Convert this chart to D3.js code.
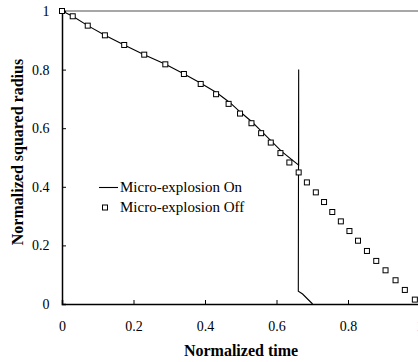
<!DOCTYPE html>
<html>
<head>
<meta charset="utf-8">
<script src="https://cdn.jsdelivr.net/npm/d3@7"></script>
<style>
  html, body { margin: 0; padding: 0; background: #fff; }
  svg { display: block; }
</style>
</head>
<body>
<svg id="chart" width="418" height="362"></svg>
<script>
// Normalized time / squared radius, micro-explosion enabled
const onTime   = [0, 0.030, 0.072, 0.120, 0.174, 0.230, 0.288, 0.339, 0.386, 0.433, 0.470, 0.498, 0.531, 0.559, 0.587, 0.615, 0.662, 0.662, 0.661, 0.673, 0.701];
const onRadius = [1, 0.982, 0.950, 0.917, 0.884, 0.851, 0.819, 0.787, 0.755, 0.721, 0.687, 0.656, 0.622, 0.588, 0.554, 0.520, 0.474, 0.800, 0.044, 0.034, 0];

// Micro-explosion disabled
const offTime   = [0, 0.030, 0.072, 0.120, 0.174, 0.230, 0.289, 0.341, 0.388, 0.431, 0.466, 0.498, 0.530, 0.557, 0.584, 0.611, 0.636, 0.662, 0.685, 0.710, 0.733, 0.756, 0.780, 0.804, 0.828, 0.853, 0.879, 0.905, 0.933, 0.959, 0.987];
const offRadius = [1, 0.982, 0.950, 0.917, 0.884, 0.851, 0.818, 0.785, 0.751, 0.716, 0.683, 0.650, 0.617, 0.583, 0.551, 0.515, 0.483, 0.449, 0.415, 0.381, 0.348, 0.314, 0.282, 0.249, 0.216, 0.181, 0.147, 0.115, 0.081, 0.048, 0.015];

const xTicks = [0, 0.2, 0.4, 0.6, 0.8, 1];
const yTicks = [0, 0.2, 0.4, 0.6, 0.8, 1];
const seriesNames = ["Micro-explosion On", "Micro-explosion Off"];

const serif = '"Liberation Serif", "Times New Roman", Times, "DejaVu Serif", serif';

const svg = d3.select("#chart");
const x = d3.scaleLinear().domain([0, 1]).range([62, 419.5]);
const y = d3.scaleLinear().domain([0, 1]).range([304, 11]);

// top frame line
svg.append("line")
  .attr("x1", x(0)).attr("x2", 418)
  .attr("y1", y(1)).attr("y2", y(1))
  .attr("stroke", "#8a8a8a").attr("stroke-width", 1.5);

const fmt = d => d === 0 ? "0" : d === 1 ? "1" : d3.format(".1f")(d);

// x axis with inward ticks
const xAxis = svg.append("g")
  .attr("transform", `translate(0,${y(0)})`)
  .call(d3.axisBottom(x).tickValues(xTicks).tickSize(-4).tickPadding(17.5).tickFormat(fmt));
xAxis.select(".domain").attr("stroke", "#000").attr("stroke-width", 1.5);
xAxis.selectAll(".tick line").attr("stroke", "#000");
xAxis.selectAll(".tick text").style("font-family", serif).style("font-size", "14px").attr("fill", "#000");

// y axis with inward ticks
const yAxis = svg.append("g")
  .attr("transform", `translate(${x(0)},0)`)
  .call(d3.axisLeft(y).tickValues(yTicks).tickSize(-4).tickPadding(12.5).tickFormat(fmt));
yAxis.select(".domain").attr("stroke", "#000").attr("stroke-width", 1.5);
yAxis.selectAll(".tick line").attr("stroke", "#000");
yAxis.selectAll(".tick text").style("font-family", serif).style("font-size", "14px").attr("fill", "#000");

// axis titles
svg.append("text")
  .attr("x", 241).attr("y", 356)
  .attr("text-anchor", "middle")
  .style("font-family", serif).style("font-size", "16px").style("font-weight", "bold")
  .text("Normalized time");
svg.append("text")
  .attr("transform", "translate(23,152) rotate(-90)")
  .attr("text-anchor", "middle")
  .style("font-family", serif).style("font-size", "16px").style("font-weight", "bold")
  .text("Normalized squared radius");

// micro-explosion on: solid line
const onData = onTime.map((t, i) => [t, onRadius[i]]);
svg.append("path")
  .datum(onData)
  .attr("fill", "none")
  .attr("stroke", "#000")
  .attr("stroke-width", 1.1)
  .attr("d", d3.line().x(d => x(d[0])).y(d => y(d[1])));

// micro-explosion off: open squares
const offData = offTime.map((t, i) => [t, offRadius[i]]);
const sq = 5;
svg.append("g").selectAll("rect")
  .data(offData)
  .join("rect")
  .attr("x", d => x(d[0]) - sq / 2)
  .attr("y", d => y(d[1]) - sq / 2)
  .attr("width", sq).attr("height", sq)
  .attr("fill", "#fff")
  .attr("stroke", "#000")
  .attr("stroke-width", 1);

// legend
const legend = svg.append("g");
legend.append("line")
  .attr("x1", 99).attr("x2", 118)
  .attr("y1", 187.5).attr("y2", 187.5)
  .attr("stroke", "#000").attr("stroke-width", 1.1);
legend.append("text")
  .attr("x", 120).attr("y", 192)
  .style("font-family", serif).style("font-size", "15px")
  .text(seriesNames[0]);
legend.append("rect")
  .attr("x", 105 - sq / 2).attr("y", 207.5 - sq / 2)
  .attr("width", sq).attr("height", sq)
  .attr("fill", "#fff").attr("stroke", "#000").attr("stroke-width", 1);
legend.append("text")
  .attr("x", 120).attr("y", 211.5)
  .style("font-family", serif).style("font-size", "15px")
  .text(seriesNames[1]);
</script>
</body>
</html>
